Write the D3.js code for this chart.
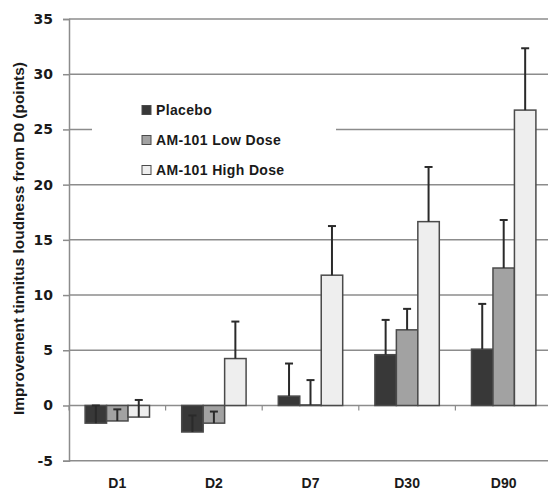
<!DOCTYPE html>
<html>
<head>
<meta charset="utf-8">
<script src="https://cdn.jsdelivr.net/npm/d3@7"></script>
<style>
	html, body {margin: 0; padding: 0; background: #fff;}
	svg {display: block;}
</style>
</head>
<body>
<svg id="chart" width="548" height="491"></svg>
<script>
const categories = ['D1', 'D2', 'D7', 'D30', 'D90'];
const seriesNames = ['Placebo', 'AM-101 Low Dose', 'AM-101 High Dose'];
const placebo = [-1.6, -2.4, 0.85, 4.6, 5.1];
const placeboErr = [1.6, 1.5, 2.95, 3.15, 4.1];
const lowDose = [-1.4, -1.6, 0.05, 6.85, 12.45];
const lowDoseErr = [1.05, 1.05, 2.25, 1.9, 4.35];
const highDose = [-1.05, 4.25, 11.8, 16.65, 26.75];
const highDoseErr = [1.55, 3.35, 4.45, 4.95, 5.6];
const yTicks = [-5, 0, 5, 10, 15, 20, 25, 30, 35];
const yLabel = 'Improvement tinnitus loudness from D0 (points)';

const fills = ['#383838', '#a2a2a2', '#eeeeee'],
	gridColor = '#8c8c8c',
	plotLeft = 69, plotRight = 552, plotTop = 19, plotBottom = 460.7;

const values = [placebo, lowDose, highDose],
	errors = [placeboErr, lowDoseErr, highDoseErr];

const rows = categories.map((cat, i) => ({
	cat,
	bars: seriesNames.map((name, s) => ({name, s, value: values[s][i], err: errors[s][i]}))
}));

const svg = d3.select('#chart');

const x0 = d3.scaleBand()
	.domain(categories)
	.range([plotLeft, plotRight])
	.paddingInner(1 / 3)
	.paddingOuter(1 / 6);

const x1 = d3.scaleBand()
	.domain(seriesNames)
	.range([0, x0.bandwidth()]);

const y = d3.scaleLinear()
	.domain([-5, 35])
	.range([plotBottom, plotTop]);

// gridlines
svg.append('g')
	.selectAll('line')
	.data(yTicks)
	.join('line')
	.attr('x1', plotLeft)
	.attr('x2', plotRight)
	.attr('y1', d => y(d))
	.attr('y2', d => y(d))
	.attr('stroke', gridColor)
	.attr('stroke-width', 1.5);

// y axis (plain hyphen for the minus, like the original)
const yAxis = svg.append('g')
	.attr('transform', `translate(${plotLeft},0)`)
	.call(d3.axisLeft(y).tickValues(yTicks).tickFormat(d => String(d)).tickSize(6).tickPadding(10));

yAxis.select('.domain').attr('stroke', gridColor).attr('stroke-width', 1.5);
yAxis.selectAll('.tick line').attr('stroke', gridColor).attr('stroke-width', 1.5);
yAxis.selectAll('.tick text')
	.attr('fill', '#1a1a1a')
	.style('font-family', '"DejaVu Sans", sans-serif')
	.style('font-weight', 'bold')
	.style('font-size', '14px');

// small category ticks under the zero line
const step = x0.step();
svg.append('g')
	.selectAll('line')
	.data(d3.range(categories.length + 1))
	.join('line')
	.attr('x1', i => plotLeft + i * step)
	.attr('x2', i => plotLeft + i * step)
	.attr('y1', y(0))
	.attr('y2', y(0) + 5)
	.attr('stroke', gridColor)
	.attr('stroke-width', 1.2);

// legend background (hides part of a gridline, as in the original)
svg.append('rect')
	.attr('x', 92)
	.attr('y', 92)
	.attr('width', 244)
	.attr('height', 88)
	.attr('fill', '#fff');

// bars
const groups = svg.append('g')
	.selectAll('g')
	.data(rows)
	.join('g')
	.attr('transform', d => `translate(${x0(d.cat)},0)`);

groups.selectAll('rect')
	.data(d => d.bars)
	.join('rect')
	.attr('x', d => x1(d.name))
	.attr('width', x1.bandwidth())
	.attr('y', d => y(Math.max(0, d.value)))
	.attr('height', d => Math.abs(y(d.value) - y(0)))
	.attr('fill', d => fills[d.s])
	.attr('stroke', '#4a4a4a')
	.attr('stroke-width', 1.5);

// error bars (upper side only)
const err = groups.selectAll('g.err')
	.data(d => d.bars)
	.join('g')
	.attr('class', 'err')
	.attr('stroke', '#2a2a2a')
	.attr('stroke-width', 2);

err.append('line')
	.attr('x1', d => x1(d.name) + x1.bandwidth() / 2)
	.attr('x2', d => x1(d.name) + x1.bandwidth() / 2)
	.attr('y1', d => y(d.value))
	.attr('y2', d => y(d.value + d.err));

err.append('line')
	.attr('x1', d => x1(d.name) + x1.bandwidth() / 2 - 4)
	.attr('x2', d => x1(d.name) + x1.bandwidth() / 2 + 4)
	.attr('y1', d => y(d.value + d.err))
	.attr('y2', d => y(d.value + d.err));

// category labels
svg.append('g')
	.selectAll('text')
	.data(categories)
	.join('text')
	.attr('x', d => x0(d) + x0.bandwidth() / 2)
	.attr('y', 488)
	.attr('text-anchor', 'middle')
	.attr('fill', '#1a1a1a')
	.style('font-family', '"Liberation Sans", Arial, sans-serif')
	.style('font-weight', 'bold')
	.style('font-size', '14px')
	.text(d => d);

// y axis title
svg.append('text')
	.attr('transform', 'translate(24,238.5) rotate(-90)')
	.attr('text-anchor', 'middle')
	.attr('textLength', 353)
	.attr('lengthAdjust', 'spacingAndGlyphs')
	.attr('fill', '#1a1a1a')
	.style('font-family', '"Liberation Sans", Arial, sans-serif')
	.style('font-weight', 'bold')
	.style('font-size', '15px')
	.text(yLabel);

// legend
const legend = svg.append('g')
	.selectAll('g')
	.data(seriesNames)
	.join('g')
	.attr('transform', (_, i) => `translate(142,${110 + i * 30})`);

legend.append('rect')
	.attr('x', 0)
	.attr('y', -4.5)
	.attr('width', 9)
	.attr('height', 9)
	.attr('fill', (_, i) => fills[i])
	.attr('stroke', '#4a4a4a')
	.attr('stroke-width', 1);

legend.append('text')
	.attr('x', 14)
	.attr('y', 5)
	.attr('fill', '#1a1a1a')
	.style('font-family', '"Liberation Sans", Arial, sans-serif')
	.style('font-weight', 'bold')
	.style('font-size', '14px')
	.style('letter-spacing', '0.35px')
	.text(d => d);
</script>
</body>
</html>
